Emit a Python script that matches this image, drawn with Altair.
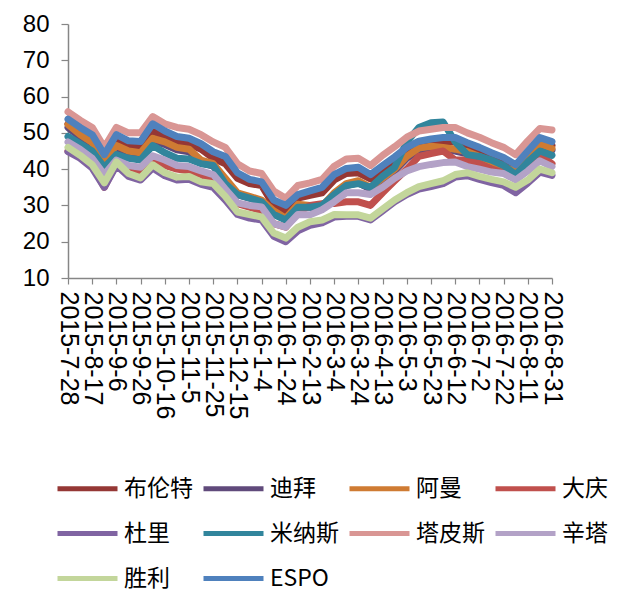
import altair as alt
import pandas as pd

START = "2015-07-28"
STEP = "10D"

TICK_LABELS = ["2015-7-28", "2015-8-17", "2015-9-6", "2015-9-26", "2015-10-16",
               "2015-11-5", "2015-11-25", "2015-12-15", "2016-1-4", "2016-1-24",
               "2016-2-13", "2016-3-4", "2016-3-24", "2016-4-13", "2016-5-3",
               "2016-5-23", "2016-6-12", "2016-7-2", "2016-7-22", "2016-8-11",
               "2016-8-31"]

SERIES = ["布伦特", "迪拜", "阿曼", "大庆", "杜里", "米纳斯", "塔皮斯", "辛塔", "胜利", "ESPO"]
COLORS = ["#953735", "#604a7b", "#cf7b33", "#c0504d", "#8064a2",
          "#31859c", "#d99694", "#b3a2c7", "#c3d69b", "#4f81bd"]

BRENT = [52.5, 50.0, 48.3, 42.8, 48.0, 46.5, 46.0, 50.5, 48.8, 47.5, 47.0, 45.5, 43.0, 41.5,
         37.5, 36.0, 35.5, 30.0, 28.5, 32.0, 32.8, 33.5, 37.0, 38.8, 39.0, 37.3, 39.8, 42.0,
         44.8, 46.5, 47.0, 47.5, 47.5, 46.3, 45.0, 43.5, 42.2, 40.3, 44.0, 47.5, 46.5]
DUBAI = [51.5, 48.8, 46.7, 41.8, 45.8, 44.3, 43.8, 47.8, 46.8, 45.3, 44.8, 41.8, 40.8, 36.8,
         33.0, 32.0, 31.0, 28.0, 26.0, 29.8, 29.5, 29.3, 33.0, 35.5, 36.2, 34.5, 37.0, 39.5,
         43.0, 45.2, 45.7, 45.4, 45.0, 44.2, 43.0, 41.5, 40.0, 39.0, 43.0, 46.5, 45.2]
OMAN = [52.3, 49.5, 47.3, 42.5, 46.5, 45.0, 44.5, 48.5, 47.5, 46.0, 45.5, 42.5, 41.5, 37.5,
        33.5, 32.5, 31.5, 28.5, 26.5, 30.3, 30.0, 29.8, 33.5, 36.0, 36.8, 35.0, 37.5, 40.0,
        43.5, 45.8, 46.3, 46.0, 45.5, 44.8, 43.5, 42.0, 40.5, 39.5, 43.5, 47.0, 45.7]
DAQING = [45.0, 43.5, 41.0, 35.0, 41.5, 40.0, 39.5, 42.0, 41.0, 40.0, 39.5, 38.5, 36.5, 34.5,
          30.5, 29.5, 28.5, 25.0, 24.0, 28.0, 30.0, 30.5, 30.5, 31.0, 31.0, 30.0, 33.5, 36.8,
          40.0, 43.5, 44.3, 45.0, 42.5, 42.5, 41.5, 40.0, 39.0, 37.5, 41.0, 44.0, 41.5]
DURI = [44.8, 43.0, 40.3, 35.0, 41.0, 38.0, 37.0, 40.3, 38.2, 37.0, 37.2, 35.8, 35.0, 31.5,
        27.5, 26.5, 26.0, 21.5, 20.0, 23.0, 24.5, 25.2, 26.8, 27.0, 27.0, 26.0, 28.5, 31.0,
        33.0, 34.5, 35.2, 36.0, 37.8, 38.2, 37.2, 36.3, 35.5, 33.5, 36.2, 39.2, 38.3]
MINAS = [49.0, 47.0, 45.0, 40.5, 44.0, 43.0, 42.5, 46.5, 44.5, 43.0, 42.8, 41.5, 41.0, 36.0,
         33.0, 32.0, 31.0, 27.5, 26.0, 29.5, 29.5, 30.0, 33.0, 35.5, 36.0, 35.0, 38.0, 40.5,
         47.5, 51.5, 52.8, 53.0, 47.5, 44.0, 43.5, 42.5, 41.0, 38.5, 42.0, 45.0, 43.8]
TAPIS = [55.8, 53.5, 51.5, 46.0, 51.5, 50.0, 50.0, 54.5, 52.5, 51.5, 51.0, 49.5, 47.5, 46.0,
         41.5, 39.5, 38.8, 34.0, 32.0, 35.5, 36.2, 37.2, 40.8, 42.8, 43.0, 41.0, 43.8, 46.2,
         48.8, 50.5, 51.0, 51.5, 51.5, 50.0, 48.8, 47.3, 46.0, 44.0, 47.8, 51.2, 50.8]
SINTA = [47.5, 45.5, 43.0, 38.5, 42.5, 41.0, 40.5, 43.7, 42.5, 41.0, 40.7, 39.5, 38.5, 34.5,
         30.7, 30.0, 29.6, 25.0, 24.0, 27.5, 27.4, 28.8, 31.0, 33.5, 33.5, 33.0, 35.0, 37.5,
         39.5, 40.7, 41.3, 41.8, 42.0, 40.7, 40.0, 39.2, 38.8, 37.0, 39.5, 42.3, 40.7]
SHENGLI = [46.0, 43.8, 41.2, 36.2, 42.0, 38.8, 37.6, 41.2, 39.0, 37.8, 38.0, 36.5, 36.0, 32.5,
           28.2, 27.5, 26.8, 22.4, 21.0, 24.0, 25.5, 26.0, 27.5, 27.4, 27.4, 26.5, 29.0, 31.5,
           33.5, 35.2, 36.0, 36.8, 38.5, 39.0, 38.0, 37.2, 36.5, 35.0, 37.0, 40.0, 39.0]
ESPO = [53.8, 51.5, 49.5, 44.0, 49.5, 47.8, 47.6, 52.5, 50.5, 49.0, 48.5, 47.0, 44.8, 43.5,
        39.0, 37.2, 36.5, 31.5, 30.0, 33.0, 34.0, 35.0, 38.5, 40.2, 40.5, 38.5, 41.0, 43.4,
        46.0, 47.7, 48.3, 48.7, 48.7, 47.3, 46.0, 44.5, 43.2, 41.2, 45.0, 48.7, 47.6]

VALUES = [BRENT, DUBAI, OMAN, DAQING, DURI, MINAS, TAPIS, SINTA, SHENGLI, ESPO]

dates = pd.date_range(START, periods=len(ESPO), freq=STEP)
rows = []
for name, vals in zip(SERIES, VALUES):
    for d, v in zip(dates, vals):
        rows.append({"date": d.strftime("%Y-%m-%d"), "series": name, "price": v})
df = pd.DataFrame(rows)


def to_dt(label):
    y, m, d = (int(p) for p in label.split("-"))
    return alt.DateTime(year=y, month=m, date=d, utc=True)


tick_values = [to_dt(t) for t in TICK_LABELS]

AXIS_GRAY = "#868686"

x_enc = alt.X(
    "date:T",
    scale=alt.Scale(type="utc", domain=[tick_values[0], tick_values[-1]]),
    axis=alt.Axis(
        values=tick_values,
        labelExpr="utcFormat(datum.value, '%Y-%-m-%-d')",
        labelAngle=90, labelAlign="left", labelBaseline="middle",
        labelFontSize=25, labelFont="Liberation Sans", labelColor="#000000",
        labelPadding=7, labelOverlap=False, labelFlush=False,
        tickSize=6, tickColor=AXIS_GRAY, domainColor=AXIS_GRAY, domainWidth=1.5,
        tickWidth=1.2, grid=False, title=None,
    ),
)
y_enc = alt.Y(
    "price:Q",
    scale=alt.Scale(domain=[10, 80], nice=False, zero=False),
    axis=alt.Axis(
        values=[10, 20, 30, 40, 50, 60, 70, 80],
        labelFontSize=24, labelFont="Liberation Sans", labelColor="#000000",
        labelPadding=12, tickSize=7, tickColor=AXIS_GRAY, domainColor=AXIS_GRAY,
        domainWidth=1.5, tickWidth=1.2, grid=False, title=None,
    ),
)
color_enc = alt.Color(
    "series:N",
    scale=alt.Scale(domain=SERIES, range=COLORS),
    legend=alt.Legend(
        title=None, orient="none", legendX=-13, legendY=432, columns=4,
        direction="horizontal",
        symbolType="stroke", symbolSize=3600, symbolStrokeWidth=5,
        labelFontSize=23, labelFont="Noto Sans CJK SC", labelColor="#000000",
        labelOffset=4, columnPadding=0, rowPadding=0, labelLimit=300,
    ),
)

layers = []
for name in SERIES:
    layers.append(
        alt.Chart(df)
        .transform_filter(alt.datum.series == name)
        .mark_line(strokeWidth=7, strokeJoin="round", strokeCap="round")
        .encode(x=x_enc, y=y_enc, color=color_enc)
    )

chart = (
    alt.layer(*layers)
    .properties(
        width=484, height=254,
        autosize=alt.AutoSizeParams(type="none"),
        padding={"left": 60, "top": 16, "right": 58, "bottom": 320},
        background="#ffffff",
    )
    .configure_view(stroke=None)
)

chart.save("out.html", embed_options={"renderer": "svg", "actions": False})
